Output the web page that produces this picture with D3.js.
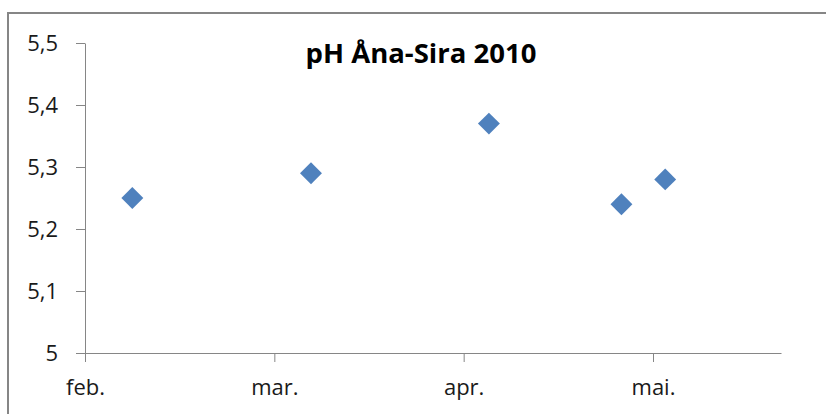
<!DOCTYPE html>
<html>
<head>
<meta charset="utf-8">
<script src="https://cdn.jsdelivr.net/npm/d3@7"></script>
<style>
  html, body { margin: 0; padding: 0; background: #fff; }
  svg { display: block; }
</style>
</head>
<body>
<svg id="chart" width="826" height="414"></svg>
<script>
// ---- data ----
const title = "pH Åna-Sira 2010";
const sampleDates = ["2010-02-08", "2010-03-07", "2010-04-05", "2010-04-26", "2010-05-03"];
const phValues = [5.25, 5.29, 5.37, 5.24, 5.28];
const yTicks = [5, 5.1, 5.2, 5.3, 5.4, 5.5];
const xTickDates = ["2010-02-01", "2010-03-01", "2010-04-01", "2010-05-01"];
const xTickLabels = ["feb.", "mar.", "apr.", "mai."];
const xAxisEnd = "2010-05-22";

// ---- layout ----
const svg = d3.select("#chart");
const parse = d3.timeParse("%Y-%m-%d");
const plotLeft = 85, plotRight = 781, plotTop = 43, plotBottom = 353;

// Excel date axis: months drawn equal width
const monthDomain = xTickDates.map(parse).concat([parse(xAxisEnd)]);
const monthW = (653 - plotLeft) / 3;
const x = d3.scaleTime()
  .domain(monthDomain)
  .range([plotLeft, plotLeft + monthW, plotLeft + 2 * monthW, plotLeft + 3 * monthW, plotRight]);
const y = d3.scaleLinear().domain([5, 5.5]).range([plotBottom, plotTop]);

// outer border
svg.append("rect")
  .attr("x", 8).attr("y", 13).attr("width", 840).attr("height", 430)
  .attr("fill", "none").attr("stroke", "#868686").attr("stroke-width", 2);

const axisColor = "#868686";
const font = "'Open Sans', sans-serif";

// y axis
const yAxis = svg.append("g")
  .attr("transform", `translate(${plotLeft},0)`)
  .call(d3.axisLeft(y).tickValues(yTicks).tickSize(9).tickSizeOuter(0).tickPadding(18)
    .tickFormat(d => d3.format(".1~f")(d).replace(".", ",")));
yAxis.selectAll("path, line").attr("stroke", axisColor);
yAxis.selectAll("text").attr("font-family", font).attr("font-size", 22).attr("fill", "#1a1a1a")
  .attr("dy", "0.34em");

// x axis
const xAxis = svg.append("g")
  .attr("transform", `translate(0,${plotBottom})`)
  .call(d3.axisBottom(x).tickValues(xTickDates.map(parse)).tickSize(9).tickSizeOuter(0).tickPadding(17)
    .tickFormat((d, i) => xTickLabels[i]));
xAxis.selectAll("path, line").attr("stroke", axisColor);
xAxis.selectAll("text").attr("font-family", font).attr("font-size", 22).attr("fill", "#1a1a1a");

// points (diamonds)
const diamond = d3.symbol().type(d3.symbolSquare).size(240);
svg.append("g").selectAll("path")
  .data(sampleDates.map((d, i) => ({ date: parse(d), v: phValues[i] })))
  .join("path")
  .attr("d", diamond)
  .attr("transform", d => `translate(${x(d.date)},${y(d.v)}) rotate(45)`)
  .attr("fill", "#4F81BD");

// title
svg.append("text")
  .attr("x", 421).attr("y", 63)
  .attr("text-anchor", "middle")
  .attr("font-family", font).attr("font-weight", "bold").attr("font-size", 27.5)
  .attr("fill", "#000")
  .text(title);
</script>
</body>
</html>
